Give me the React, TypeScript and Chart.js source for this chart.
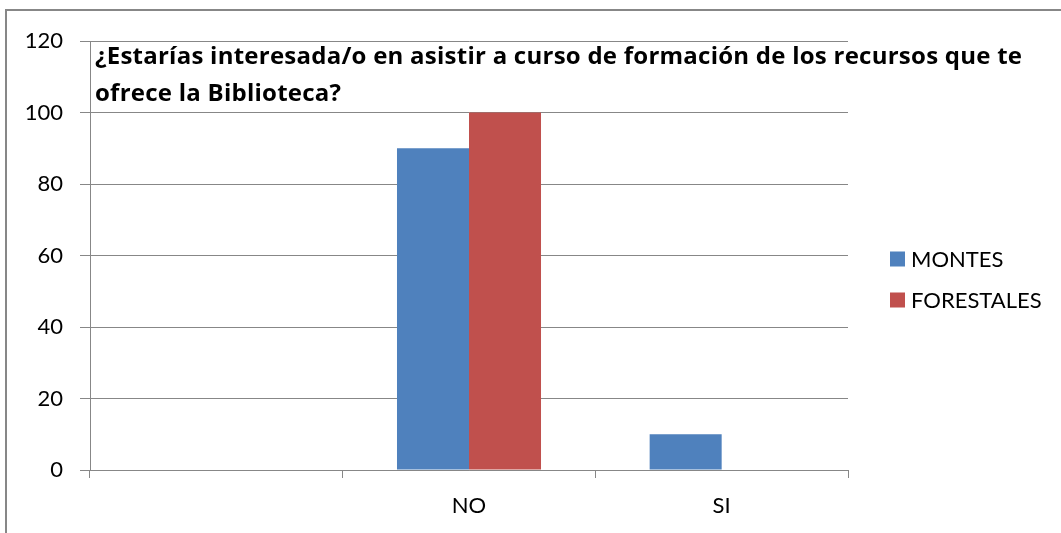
import React, { useEffect, useRef } from "react";
import { Chart, registerables } from "chart.js";

Chart.register(...registerables);

const titleLines = [
  "¿Estarías interesada/o en asistir a curso de formación de los recursos que te",
  "ofrece la Biblioteca?",
];
const categories = ["", "NO", "SI"];
const montes = [null, 90, 10];
const forestales = [null, 100, 0];
const seriesNames = ["MONTES", "FORESTALES"];
const seriesColors = ["#4F81BD", "#C0504D"];
const yMin = 0;
const yMax = 120;
const yStep = 20;

const FONT = "Lato, 'Liberation Sans', sans-serif";
const TITLE_FONT = "'Open Sans', Lato, sans-serif";
const GRID = "#878787";

function drawSpaced(ctx: any, text: string, x: number, y: number, spacing: number) {
  let cx = x;
  for (const ch of Array.from(text)) {
    ctx.fillText(ch, cx, y);
    cx += ctx.measureText(ch).width + spacing;
  }
}

const decorPlugin = {
  id: "decor",
  afterDraw(chart: any) {
    const ctx = chart.ctx;
    ctx.save();
    // outer border
    ctx.strokeStyle = GRID;
    ctx.lineWidth = 2;
    ctx.beginPath();
    ctx.moveTo(6, chart.height);
    ctx.lineTo(6, 10);
    ctx.lineTo(chart.width, 10);
    ctx.stroke();
    // title
    ctx.fillStyle = "#000";
    ctx.font = `bold 24px ${TITLE_FONT}`;
    ctx.textAlign = "left";
    ctx.textBaseline = "alphabetic";
    const chars = Array.from(titleLines[0]);
    let natural = 0;
    chars.forEach((c) => (natural += ctx.measureText(c).width));
    const spacing = (927 - natural) / (chars.length - 1);
    drawSpaced(ctx, titleLines[0], 95, 64, spacing);
    drawSpaced(ctx, titleLines[1], 95, 101, spacing);
    // legend
    ctx.font = `22px ${FONT}`;
    ctx.textBaseline = "middle";
    chart.data.datasets.forEach((ds: any, i: number) => {
      const cy = 259 + i * 41;
      ctx.fillStyle = ds.backgroundColor;
      ctx.fillRect(890, cy - 7.5, 15, 15);
      ctx.fillStyle = "#000";
      ctx.fillText(ds.label, 911, cy + 1);
    });
    ctx.restore();
  },
};

export default function App() {
  const ref = useRef<HTMLCanvasElement | null>(null);
  useEffect(() => {
    if (!ref.current) return;
    const chart = new Chart(ref.current, {
      type: "bar",
      data: {
        labels: categories,
        datasets: [
          { label: seriesNames[0], data: montes, backgroundColor: seriesColors[0], borderWidth: 0 },
          { label: seriesNames[1], data: forestales, backgroundColor: seriesColors[1], borderWidth: 0 },
        ],
      },
      options: {
        animation: false,
        responsive: false,
        maintainAspectRatio: false,
        layout: { padding: { top: 41, right: 213, left: 0, bottom: 0 } },
        plugins: {
          legend: { display: false },
          title: { display: false },
          tooltip: { enabled: false },
        },
        datasets: {
          bar: { categoryPercentage: 0.57, barPercentage: 1 },
        },
        scales: {
          x: {
            grid: {
              offset: true,
              drawOnChartArea: false,
              drawTicks: true,
              tickLength: 8,
              color: GRID,
              lineWidth: 1,
            },
            border: { color: GRID, width: 1 },
            ticks: {
              color: "#000",
              font: { family: FONT, size: 22 },
              padding: 15,
              maxRotation: 0,
            },
            afterFit: (s: any) => {
              s.height = 63;
            },
          },
          y: {
            min: yMin,
            max: yMax,
            grid: { color: GRID, lineWidth: 1, tickLength: 10 },
            border: { color: GRID, width: 1 },
            ticks: {
              stepSize: yStep,
              color: "#000",
              font: { family: FONT, size: 22 },
              padding: 17,
            },
            afterFit: (s: any) => {
              s.width = 90;
            },
          },
        },
      },
      plugins: [decorPlugin],
    });
    return () => chart.destroy();
  }, []);
  return (
    <div style={{ position: "absolute", left: 0, top: 0, width: 1061, height: 533, background: "#fff" }}>
      <canvas ref={ref} width={1061} height={533} />
    </div>
  );
}
